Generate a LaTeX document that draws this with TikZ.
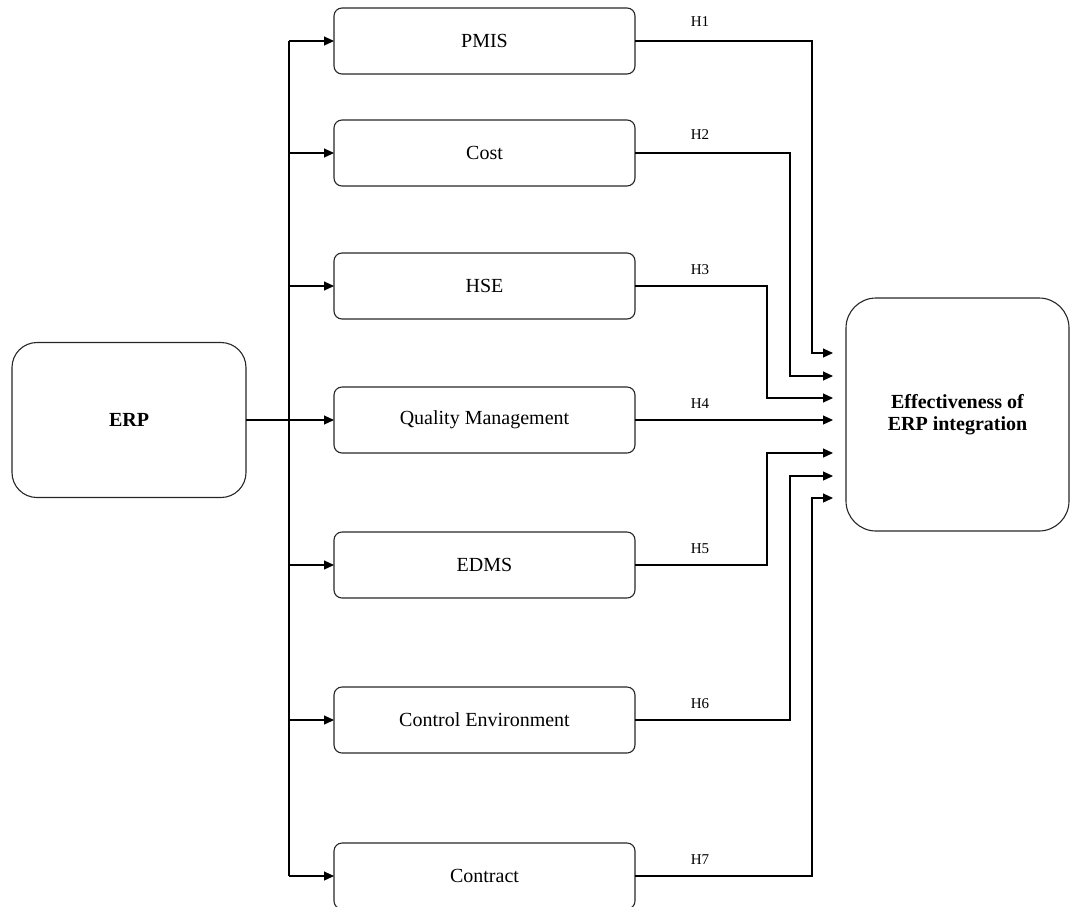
\documentclass[tikz,border=0pt]{standalone}
\usepackage{fontspec}
\setmainfont{Liberation Serif}
\usetikzlibrary{arrows.meta}
\begin{document}
\begin{tikzpicture}[x=1pt,y=-1pt,
  smallbox/.style={draw=black!85,line width=1.1pt,rounded corners=8pt,minimum width=301pt,minimum height=66pt,inner sep=0pt,outer sep=0pt,font=\fontsize{20}{22}\selectfont},
  bigbox/.style={draw=black!85,line width=1.1pt,inner sep=0pt,outer sep=0pt,align=center,font=\fontsize{20}{22}\selectfont\bfseries},
  conn/.style={line width=1.1pt,draw=black},
  arr/.style={conn,-{Triangle[length=10pt,width=9pt]}},
  hlab/.style={font=\fontsize{15}{16}\selectfont,inner sep=0pt}]
\useasboundingbox (0,0) rectangle (1070,906);
\clip (0,0) rectangle (1070,906);
% boxes
\node[bigbox,rounded corners=25pt,minimum width=234pt,minimum height=155pt] (erp) at (129,420) {ERP};
\node[bigbox,rounded corners=30pt,minimum width=223pt,minimum height=233pt] (eff) at (957.5,414.5) {Effectiveness of\\ERP integration};
\node[smallbox] (pmis) at (484.5,41) {PMIS};
\node[smallbox] (cost) at (484.5,153) {Cost};
\node[smallbox] (hse) at (484.5,286) {HSE};
\node[smallbox] (qm) at (484.5,420) {Quality Management};
\node[smallbox] (edms) at (484.5,565) {EDMS};
\node[smallbox] (ce) at (484.5,720) {Control Environment};
\node[smallbox] (con) at (484.5,876) {Contract};
% trunk
\coordinate (j) at (289,0);
\draw[conn] (j |- pmis.west) -- (j |- con.west);
\draw[arr] (erp.east) -- (qm.west);
\foreach \b in {pmis,cost,hse,edms,ce,con}{
  \draw[arr] (j |- \b.west) -- (\b.west);
}
% targets
\coordinate (t1) at (833,353);
\coordinate (t2) at (833,376);
\coordinate (t3) at (833,398);
\coordinate (t4) at (833,420);
\coordinate (t5) at (833,453);
\coordinate (t6) at (833,476);
\coordinate (t7) at (833,498);
\coordinate (c1) at (812,353);
\coordinate (c2) at (790,376);
\coordinate (c3) at (767,398);
\coordinate (c5) at (767,453);
\coordinate (c6) at (790,476);
\coordinate (c7) at (812,498);
\draw[arr] (pmis.east) -| (c1) -- (t1);
\draw[arr] (cost.east) -| (c2) -- (t2);
\draw[arr] (hse.east) -| (c3) -- (t3);
\draw[arr] (qm.east) -- (t4);
\draw[arr] (edms.east) -| (c5) -- (t5);
\draw[arr] (ce.east) -| (c6) -- (t6);
\draw[arr] (con.east) -| (c7) -- (t7);
% labels
\node[hlab] (h1) at (700,22) {H1};
\node[hlab] (h2) at (700,135) {H2};
\node[hlab] (h3) at (700,270) {H3};
\node[hlab] (h4) at (700,404) {H4};
\node[hlab] (h5) at (700,549) {H5};
\node[hlab] (h6) at (700,704) {H6};
\node[hlab] (h7) at (700,860) {H7};
\end{tikzpicture}
\end{document}
